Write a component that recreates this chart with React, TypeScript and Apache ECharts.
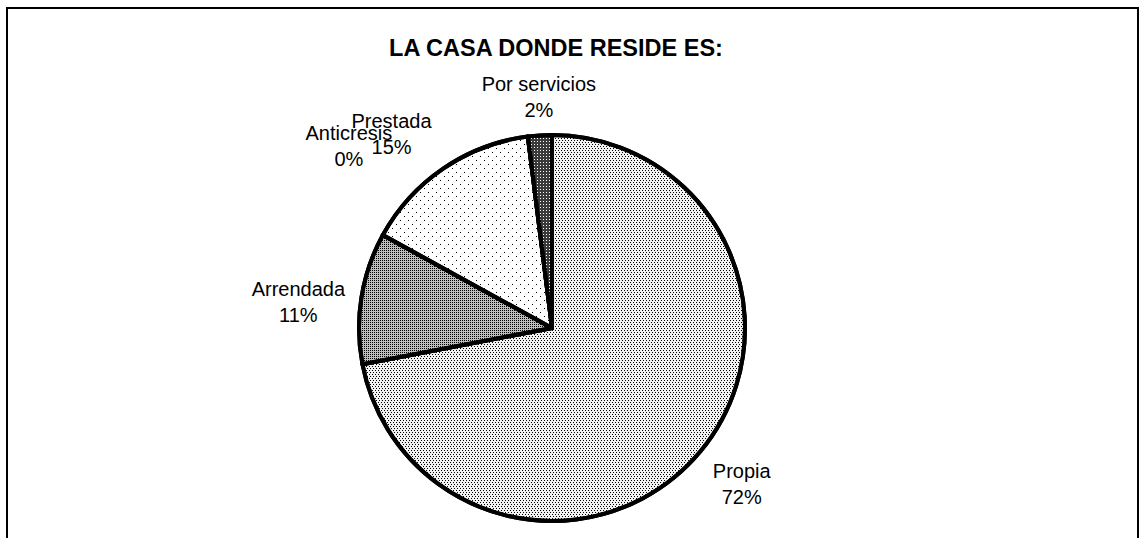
import React, { useEffect, useRef } from 'react';
import * as echarts from 'echarts';

const categories = ['Propia', 'Arrendada', 'Anticresis', 'Prestada', 'Por servicios'];
const values = [72, 11, 0, 15, 2];
const titleText = 'LA CASA DONDE RESIDE ES:';

// styling (not data)
const FONT = '"Liberation Sans", Arial, sans-serif';
const CENTER = [552, 328];
const RADIUS = 193;
const LABEL_OFFSETS = [
  [41, 33],
  [-63, 4],
  [-34, -89],
  [-52, -34],
  [-1, -38],
];
const SLICE_STYLES: any[] = [
  {
    color: '#f2f2f2',
    decal: { symbol: 'rect', symbolSize: 1, color: '#000', dashArrayX: [[1, 2], [0, 1, 1, 1]], dashArrayY: [1, 1], rotation: 0 },
  },
  {
    color: '#bdbdbd',
    decal: { symbol: 'rect', symbolSize: 1, color: '#000', dashArrayX: [1, 1], dashArrayY: [1, 1], rotation: 0 },
  },
  { color: '#ffffff' },
  {
    color: '#ffffff',
    decal: { symbol: 'rect', symbolSize: 1, color: '#000', dashArrayX: [[1, 7], [0, 4, 1, 3]], dashArrayY: [1, 3], rotation: 0 },
  },
  {
    color: '#3a3a3a',
    decal: { symbol: 'rect', symbolSize: 1, color: '#ffffff', dashArrayX: [1, 2], dashArrayY: [1, 2], rotation: 0 },
  },
];

export default function App() {
  const ref = useRef<HTMLDivElement>(null);
  useEffect(() => {
    document.body.style.margin = '0';
    const chart = echarts.init(ref.current!, null, { renderer: 'svg' });
    const total = values.reduce((a, b) => a + b, 0);
    const mids: number[] = [];
    let cum = 0;
    values.forEach((v) => {
      mids.push(90 - (360 * (cum + v / 2)) / total);
      cum += v;
    });
    chart.setOption({
      animation: false,
      backgroundColor: '#ffffff',
      title: {
        text: titleText,
        left: 551,
        top: 31,
        textAlign: 'center',
        textStyle: { fontFamily: FONT, fontSize: 23.5, fontWeight: 'bold', color: '#000' },
      },
      graphic: [
        {
          type: 'rect',
          silent: true,
          shape: { x: 7, y: 8, width: 1131, height: 560 },
          style: { fill: 'none', stroke: '#000', lineWidth: 2 },
        },
      ],
      series: [
        {
          type: 'pie',
          center: CENTER,
          radius: RADIUS,
          startAngle: 90,
          clockwise: true,
          avoidLabelOverlap: false,
          percentPrecision: 0,
          label: {
            show: true,
            position: 'outside',
            formatter: '{b}\n{d}%',
            fontFamily: FONT,
            fontSize: 20,
            lineHeight: 26,
            color: '#000',
          },
          labelLine: { show: false },
          labelLayout: (params: any) => {
            const i = params.dataIndex;
            const a = (mids[i] * Math.PI) / 180;
            const ex = CENTER[0] + RADIUS * Math.cos(a);
            const ey = CENTER[1] - RADIUS * Math.sin(a);
            return {
              x: ex + LABEL_OFFSETS[i][0],
              y: ey + LABEL_OFFSETS[i][1],
              align: 'center',
              verticalAlign: 'middle',
            };
          },
          itemStyle: { borderColor: '#000', borderWidth: 4, borderJoin: 'round' },
          emphasis: { disabled: true },
          data: categories.map((name, i) => ({
            name,
            value: values[i],
            itemStyle: { ...SLICE_STYLES[i] },
          })),
        },
      ],
    });
    return () => chart.dispose();
  }, []);
  return <div ref={ref} style={{ width: 1141, height: 538 }} />;
}
